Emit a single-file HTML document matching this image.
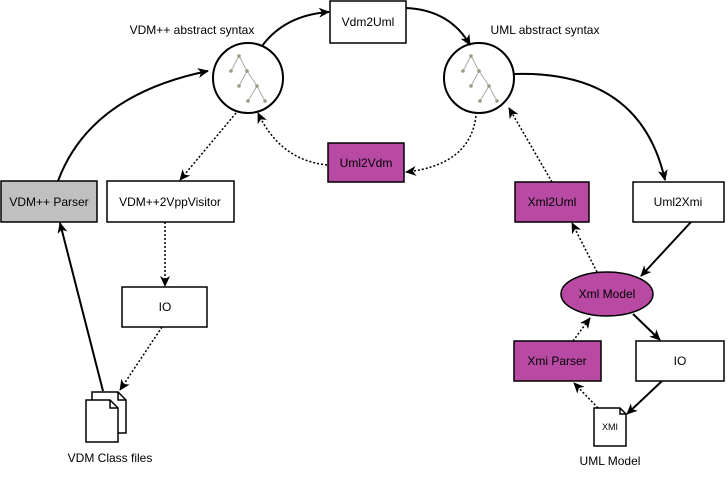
<!DOCTYPE html>
<html><head><style>
body{margin:0;background:#fff;width:728px;height:474px;overflow:hidden}
svg text{font-family:"Liberation Sans",sans-serif;font-size:12px;fill:#000}
</style></head><body>
<svg width="728" height="474" viewBox="0 0 728 474" xmlns="http://www.w3.org/2000/svg">
<defs>
<marker id="a" markerWidth="12" markerHeight="12" refX="10" refY="5" orient="auto" markerUnits="userSpaceOnUse">
<path d="M0,0 L11,5 L0,10 L3,5 Z" fill="#000"/></marker>
<g id="tree" stroke="#aaa" stroke-width="1">
<line x1="239" y1="56" x2="231" y2="71"/><line x1="239" y1="56" x2="247" y2="71"/>
<line x1="247" y1="71" x2="239" y2="86"/><line x1="247" y1="71" x2="257" y2="86"/>
<line x1="257" y1="86" x2="248" y2="101"/><line x1="257" y1="86" x2="265" y2="101"/>
<g fill="#9a9a80" stroke="none">
<circle cx="239" cy="56" r="1.8"/><circle cx="231" cy="71" r="1.8"/><circle cx="247" cy="71" r="1.8"/>
<circle cx="239" cy="86" r="1.8"/><circle cx="257" cy="86" r="1.8"/><circle cx="248" cy="101" r="1.8"/><circle cx="265" cy="101" r="1.8"/></g>
</g>
</defs>
<g fill="none" stroke="#000" stroke-width="2">
<circle cx="248" cy="78" r="35"/>
<circle cx="479" cy="78" r="35"/>
</g>
<use href="#tree"/>
<use href="#tree" x="232"/>
<g stroke="#000" stroke-width="1.5">
<rect x="330" y="1" width="76" height="42" fill="#fff"/>
<rect x="328" y="143" width="76" height="39" fill="#b94aa3"/>
<rect x="1" y="181" width="96" height="41" fill="#c0c0c0"/>
<rect x="107" y="181" width="127" height="41" fill="#fff"/>
<rect x="122" y="287" width="85" height="40" fill="#fff"/>
<rect x="515" y="182" width="74" height="40" fill="#b94aa3"/>
<rect x="633" y="182" width="91" height="40" fill="#fff"/>
<ellipse cx="607" cy="294" rx="46" ry="22" fill="#b94aa3"/>
<rect x="514" y="341" width="87" height="40" fill="#b94aa3"/>
<rect x="636" y="341" width="88" height="40" fill="#fff"/>
<path d="M594,408 H620 L626,414 V446 H594 Z" fill="#fff"/><path d="M620,408 V414 H626" fill="none"/>
<path d="M92,392 H118 L126,400 V433 H92 Z" fill="#fff"/><path d="M118,392 V400 H126" fill="none"/>
<path d="M86,400 H110 L118,408 V442 H86 Z" fill="#fff"/><path d="M110,400 V408 H118" fill="none"/>
</g>
<g fill="none" stroke="#000" stroke-width="2" marker-end="url(#a)">
<path d="M262,46 Q285,15 329,12"/>
<path d="M406,8 Q450,10 470,45"/>
<path d="M514,74 Q640,70 665,180"/>
<path d="M691,222 L641,276"/>
<path d="M633,314 L660,340"/>
<path d="M662,381 L627,414"/>
<path d="M58,181 Q90,95 208,71"/>
<path d="M103,391 L60,223"/>
</g>
<g fill="none" stroke="#000" stroke-width="1.5" stroke-dasharray="2,2" marker-end="url(#a)">
<path d="M327,165 Q280,160 258,113"/>
<path d="M476,116 Q470,165 406,172"/>
<path d="M236,113 L180,180"/>
<path d="M165,222 L165,286"/>
<path d="M162,327 L120,390"/>
<path d="M552,182 L509,108"/>
<path d="M597,272 L572,223"/>
<path d="M573,341 L590,318"/>
<path d="M598,408 L574,383"/>
</g>
<text x="192" y="34" text-anchor="middle">VDM++ abstract syntax</text>
<text x="545" y="34" text-anchor="middle">UML abstract syntax</text>
<text x="368" y="26" text-anchor="middle">Vdm2Uml</text>
<text x="366" y="167" text-anchor="middle">Uml2Vdm</text>
<text x="49" y="206" text-anchor="middle">VDM++ Parser</text>
<text x="170" y="206" text-anchor="middle">VDM++2VppVisitor</text>
<text x="165" y="311" text-anchor="middle">IO</text>
<text x="552" y="206" text-anchor="middle">Xml2Uml</text>
<text x="678" y="206" text-anchor="middle">Uml2Xmi</text>
<text x="607" y="298" text-anchor="middle">Xml Model</text>
<text x="557" y="365" text-anchor="middle">Xmi Parser</text>
<text x="680" y="365" text-anchor="middle">IO</text>
<text x="610" y="430" text-anchor="middle" style="font-size:9px">XMI</text>
<text x="110" y="462" text-anchor="middle">VDM Class files</text>
<text x="610" y="465" text-anchor="middle">UML Model</text>
</svg>
</body></html>
